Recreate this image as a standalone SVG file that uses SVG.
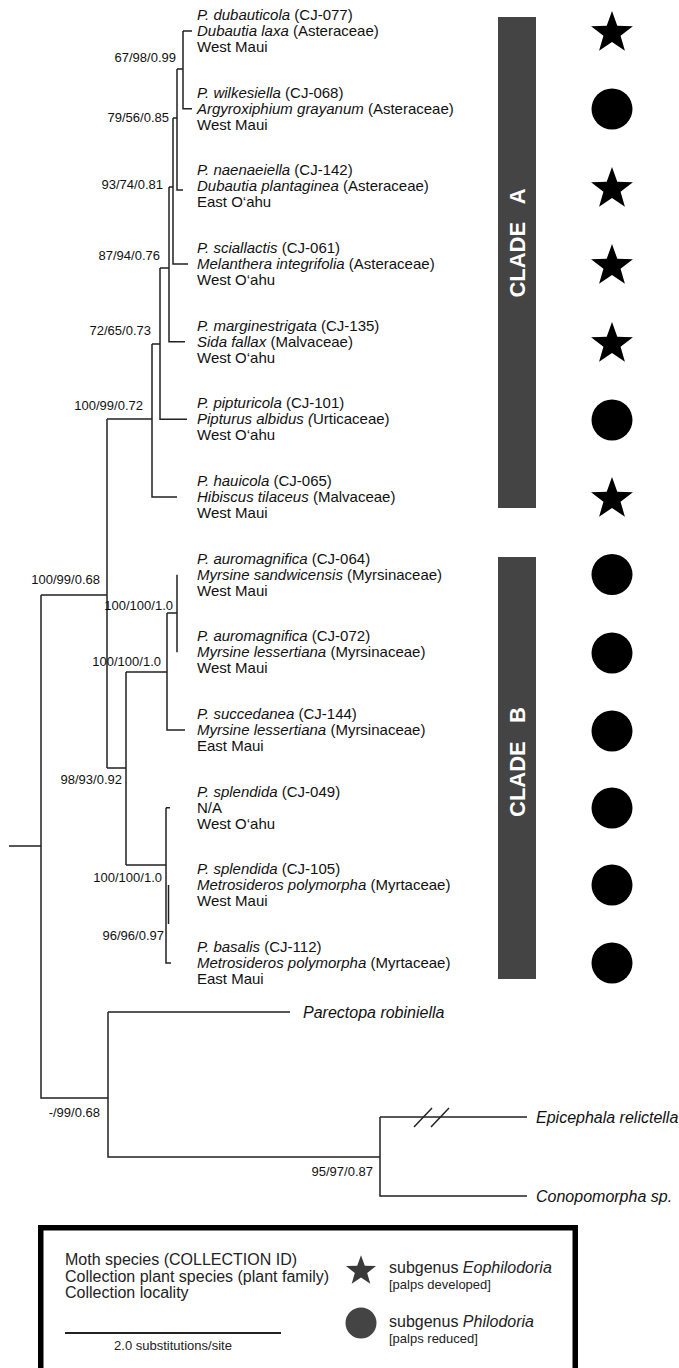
<svg xmlns="http://www.w3.org/2000/svg" width="679" height="1368" viewBox="0 0 679 1368">
<style>
.tx{font-family:"Liberation Sans",Arial,sans-serif;font-size:15px;fill:#111}
.og{font-size:16px}
.i{font-style:italic}
.sup{font-family:"Liberation Sans",Arial,sans-serif;font-size:13px;fill:#111;text-anchor:end}
.br{stroke:#222;stroke-width:1.5;fill:none}
.bar{fill:#444}
.cl{font-family:"Liberation Sans",Arial,sans-serif;font-size:22px;font-weight:bold;fill:#fff;text-anchor:middle}
.sym{fill:#000}
.lg{font-family:"Liberation Sans",Arial,sans-serif;fill:#222}
</style>
<defs>
<path id="star" d="M0,-22 L5.29,-7.28 L20.92,-6.8 L8.56,2.78 L12.93,17.8 L0,9 L-12.93,17.8 L-8.56,2.78 L-20.92,-6.8 L-5.29,-7.28 Z"/>
</defs>
<rect width="679" height="1368" fill="#fff"/>

<g id="branches" class="br">
<path d="M183,31 H192 M183,31 V108.7 H192 M177,69 H183 M177,69 V190 H183 M173,118 H177 M173,118 V264 H188 M169,187 H173 M169,187 V341.7 H185 M160,268 H169 M160,268 V419.3 H187 M152,344 H160 M152,344 V497 H177 M107,419 H152 M107,419 V768 M41,595 H107 M107,768 H126 M126,672 V865 M126,672 H167 M167,613 V730 H185 M167,613 H177 M177,574.7 V652.3 M126,865 H166 M166,807.7 H170 M166,807.7 V963 H171 M168.5,885 V924 M9,846 H41 M41,595 V1098 H108 M108,1012 V1157 H380 M108,1012 H290 M380,1117 V1196 H527 M380,1117 H527"/>
<path d="M414,1127 L432,1108 M431,1127 L449,1108"/>
</g>

<g id="support-labels">
<text class="sup" x="176" y="62">67/98/0.99</text>
<text class="sup" x="169" y="122">79/56/0.85</text>
<text class="sup" x="163" y="189">93/74/0.81</text>
<text class="sup" x="160" y="260">87/94/0.76</text>
<text class="sup" x="151" y="335">72/65/0.73</text>
<text class="sup" x="143" y="410">100/99/0.72</text>
<text class="sup" x="100" y="584">100/99/0.68</text>
<text class="sup" x="173" y="610">100/100/1.0</text>
<text class="sup" x="161" y="666">100/100/1.0</text>
<text class="sup" x="122" y="784">98/93/0.92</text>
<text class="sup" x="162" y="882">100/100/1.0</text>
<text class="sup" x="164" y="940">96/96/0.97</text>
<text class="sup" x="100" y="1117">-/99/0.68</text>
<text class="sup" x="373" y="1176">95/97/0.87</text>
</g>

<g id="taxon-1" class="tx">
<text x="197" y="20"><tspan class="i">P. dubauticola</tspan> (CJ-077)</text>
<text x="197" y="36"><tspan class="i">Dubautia laxa</tspan> (Asteraceae)</text>
<text x="197" y="52">West Maui</text>
</g>
<g id="taxon-2" class="tx">
<text x="197" y="97.7"><tspan class="i">P. wilkesiella</tspan> (CJ-068)</text>
<text x="197" y="113.7"><tspan class="i">Argyroxiphium grayanum</tspan> (Asteraceae)</text>
<text x="197" y="129.7">West Maui</text>
</g>
<g id="taxon-3" class="tx">
<text x="197" y="175.3"><tspan class="i">P. naenaeiella</tspan> (CJ-142)</text>
<text x="197" y="191.3"><tspan class="i">Dubautia plantaginea</tspan> (Asteraceae)</text>
<text x="197" y="207.3">East O‘ahu</text>
</g>
<g id="taxon-4" class="tx">
<text x="197" y="253"><tspan class="i">P. sciallactis</tspan> (CJ-061)</text>
<text x="197" y="269"><tspan class="i">Melanthera integrifolia</tspan> (Asteraceae)</text>
<text x="197" y="285">West O‘ahu</text>
</g>
<g id="taxon-5" class="tx">
<text x="197" y="330.7"><tspan class="i">P. marginestrigata</tspan> (CJ-135)</text>
<text x="197" y="346.7"><tspan class="i">Sida fallax</tspan> (Malvaceae)</text>
<text x="197" y="362.7">West O‘ahu</text>
</g>
<g id="taxon-6" class="tx">
<text x="197" y="408.3"><tspan class="i">P. pipturicola</tspan> (CJ-101)</text>
<text x="197" y="424.3"><tspan class="i">Pipturus albidus (</tspan>Urticaceae)</text>
<text x="197" y="440.3">West O‘ahu</text>
</g>
<g id="taxon-7" class="tx">
<text x="197" y="486"><tspan class="i">P. hauicola</tspan> (CJ-065)</text>
<text x="197" y="502"><tspan class="i">Hibiscus tilaceus</tspan> (Malvaceae)</text>
<text x="197" y="518">West Maui</text>
</g>
<g id="taxon-8" class="tx">
<text x="197" y="563.7"><tspan class="i">P. auromagnifica</tspan> (CJ-064)</text>
<text x="197" y="579.7"><tspan class="i">Myrsine sandwicensis</tspan> (Myrsinaceae)</text>
<text x="197" y="595.7">West Maui</text>
</g>
<g id="taxon-9" class="tx">
<text x="197" y="641.3"><tspan class="i">P. auromagnifica</tspan> (CJ-072)</text>
<text x="197" y="657.3"><tspan class="i">Myrsine lessertiana</tspan> (Myrsinaceae)</text>
<text x="197" y="673.3">West Maui</text>
</g>
<g id="taxon-10" class="tx">
<text x="197" y="719"><tspan class="i">P. succedanea</tspan> (CJ-144)</text>
<text x="197" y="735"><tspan class="i">Myrsine lessertiana</tspan> (Myrsinaceae)</text>
<text x="197" y="751">East Maui</text>
</g>
<g id="taxon-11" class="tx">
<text x="197" y="796.7"><tspan class="i">P. splendida</tspan> (CJ-049)</text>
<text x="197" y="812.7">N/A</text>
<text x="197" y="828.7">West O‘ahu</text>
</g>
<g id="taxon-12" class="tx">
<text x="197" y="874.3"><tspan class="i">P. splendida</tspan> (CJ-105)</text>
<text x="197" y="890.3"><tspan class="i">Metrosideros polymorpha</tspan> (Myrtaceae)</text>
<text x="197" y="906.3">West Maui</text>
</g>
<g id="taxon-13" class="tx">
<text x="197" y="952"><tspan class="i">P. basalis</tspan> (CJ-112)</text>
<text x="197" y="968"><tspan class="i">Metrosideros polymorpha</tspan> (Myrtaceae)</text>
<text x="197" y="984">East Maui</text>
</g>
<g id="outgroup-parectopa" class="tx og"><text class="i" x="303" y="1018">Parectopa robiniella</text></g>
<g id="outgroup-epicephala" class="tx og"><text class="i" x="536" y="1123">Epicephala relictella</text></g>
<g id="outgroup-conopomorpha" class="tx og"><text class="i" x="536" y="1202">Conopomorpha sp.</text></g>

<g id="clade-a">
<rect class="bar" x="498" y="17" width="38" height="491"/>
<text class="cl" xml:space="preserve" transform="translate(525,243) rotate(-90)">CLADE   A</text>
</g>
<g id="clade-b">
<rect class="bar" x="498" y="557" width="38" height="422"/>
<text class="cl" xml:space="preserve" transform="translate(525,762) rotate(-90)">CLADE   B</text>
</g>

<g id="symbols" class="sym">
<use href="#star" x="612" y="33"/>
<circle cx="612" cy="109" r="20.5"/>
<use href="#star" x="612" y="189"/>
<use href="#star" x="612" y="266"/>
<use href="#star" x="612" y="344"/>
<circle cx="612" cy="420" r="20.5"/>
<use href="#star" x="612" y="499"/>
<circle cx="612" cy="574.5" r="20.5"/>
<circle cx="612" cy="653" r="20.5"/>
<circle cx="612" cy="731" r="20.5"/>
<circle cx="612" cy="808" r="20.5"/>
<circle cx="612" cy="885" r="20.5"/>
<circle cx="612" cy="963" r="20.5"/>
</g>

<g id="legend">
<rect x="40.75" y="1227.75" width="534.5" height="160" fill="none" stroke="#000" stroke-width="5.5"/>
<text class="lg" font-size="16" x="65" y="1265">Moth species (COLLECTION ID)</text>
<text class="lg" font-size="16" x="65" y="1282">Collection plant species (plant family)</text>
<text class="lg" font-size="16" x="65" y="1298">Collection locality</text>
<line x1="65" y1="1333" x2="281" y2="1333" stroke="#222" stroke-width="2"/>
<text class="lg" font-size="13" x="173" y="1350" text-anchor="middle">2.0 substitutions/site</text>
<use href="#star" transform="translate(361,1271) scale(0.72)" fill="#3a3a3a"/>
<text class="lg" font-size="16" x="389" y="1273">subgenus <tspan font-style="italic">Eophilodoria</tspan></text>
<text class="lg" font-size="13" x="389" y="1289">[palps developed]</text>
<circle cx="361" cy="1323" r="15.5" fill="#444"/>
<text class="lg" font-size="16" x="389" y="1327">subgenus <tspan font-style="italic">Philodoria</tspan></text>
<text class="lg" font-size="13" x="389" y="1343">[palps reduced]</text>
</g>
</svg>
